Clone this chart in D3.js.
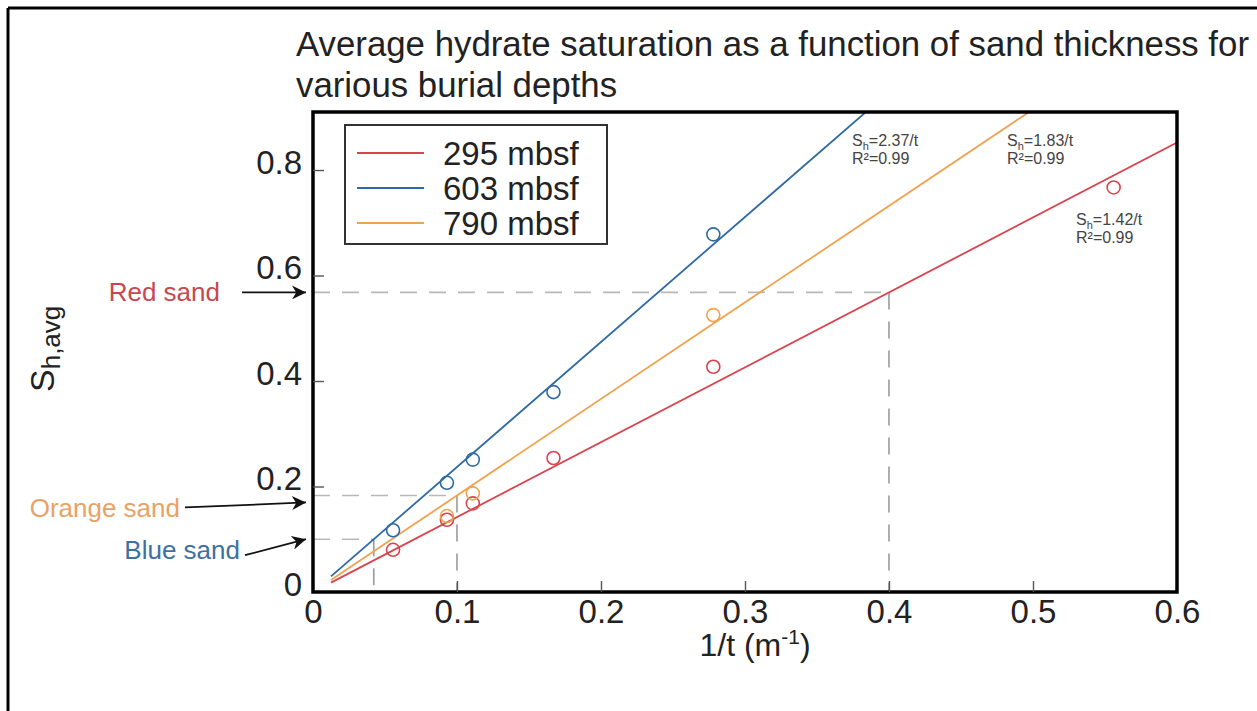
<!DOCTYPE html>
<html>
<head>
<meta charset="utf-8">
<script src="https://cdn.jsdelivr.net/npm/d3@7"></script>
<style>
  html, body { margin: 0; padding: 0; background: #fff; }
  svg { display: block; font-family: "Liberation Sans", Arial, sans-serif; }
</style>
</head>
<body>
<svg id="chart" width="1257" height="711"></svg>
<script>
// Inverse sand thickness 1/t (m^-1) for each measured sand
const invThickness = [0.0556, 0.093, 0.111, 0.167, 0.278, 0.556];

// Average hydrate saturation per burial depth
const sh295 = [0.080, 0.137, 0.168, 0.254, 0.427, 0.767];
const sh603 = [0.117, 0.207, 0.251, 0.379, 0.678, null];
const sh790 = [null, 0.144, 0.187, null, 0.525, null];

// Fitted slopes S_h = a / t
const seriesNames = ["295 mbsf", "603 mbsf", "790 mbsf"];
const seriesColors = ["#d9434d", "#2f6aa3", "#f0a24c"];
const fitSlopes = [1.42, 2.37, 1.83];
const fitLabels = ["S|h|=1.42/t", "S|h|=2.37/t", "S|h|=1.83/t"];
const fitR2 = ["R²=0.99", "R²=0.99", "R²=0.99"];
const fitStart = 0.0125;

// Example sands
const sandNames = ["Red sand", "Orange sand", "Blue sand"];
const sandColors = ["#c8474f", "#e9a265", "#3d70a3"];
const sandSeries = [0, 2, 1];
const sandInvT = [0.4, 0.1, 0.0422];

// Axes
const xTicks = [0, 0.1, 0.2, 0.3, 0.4, 0.5, 0.6];
const yTicks = [0, 0.2, 0.4, 0.6, 0.8];
const xDomain = [0, 0.6];
const yDomain = [0, 0.91];

const svg = d3.select("#chart");
const plot = { left: 313, right: 1177, top: 112, bottom: 592 };

const x = d3.scaleLinear().domain(xDomain).range([plot.left, plot.right]);
const y = d3.scaleLinear().domain(yDomain).range([plot.bottom, plot.top]);

// Outer slide border
svg.append("line").attr("x1", 8).attr("y1", 8).attr("x2", 1257).attr("y2", 8)
  .attr("stroke", "#000").attr("stroke-width", 3);
svg.append("line").attr("x1", 8).attr("y1", 8).attr("x2", 8).attr("y2", 711)
  .attr("stroke", "#000").attr("stroke-width", 3);

// Title
const title = svg.append("text").attr("x", 296).attr("font-size", 34.8).attr("fill", "#222");
title.append("tspan").attr("x", 296).attr("y", 56)
  .text("Average hydrate saturation as a function of sand thickness for");
title.append("tspan").attr("x", 296).attr("y", 97).text("various burial depths");

// Clip for plot area
const defs = svg.append("defs");
defs.append("clipPath").attr("id", "plotClip")
  .append("rect").attr("x", plot.left).attr("y", plot.top)
  .attr("width", plot.right - plot.left).attr("height", plot.bottom - plot.top);

const g = svg.append("g");

// Dashed guide lines for the example sands
const guides = g.append("g").attr("stroke", "#b8b8b8").attr("stroke-width", 1.6)
  .attr("stroke-dasharray", "17,12").attr("fill", "none");
sandInvT.forEach((t, i) => {
  const s = fitSlopes[sandSeries[i]] * t;
  guides.append("line").attr("x1", x(0)).attr("x2", x(t)).attr("y1", y(s)).attr("y2", y(s));
  guides.append("line").attr("x1", x(t)).attr("x2", x(t)).attr("y1", y(s)).attr("y2", y(0))
    .attr("stroke", "#9a9a9a");
});

// Fit lines
const lines = g.append("g").attr("clip-path", "url(#plotClip)");
fitSlopes.forEach((a, i) => {
  const xEnd = xDomain[1];
  lines.append("line")
    .attr("x1", x(fitStart)).attr("y1", y(a * fitStart))
    .attr("x2", x(xEnd)).attr("y2", y(a * xEnd))
    .attr("stroke", seriesColors[i]).attr("stroke-width", 1.8);
});

// Data points
const allSeries = [sh295, sh603, sh790];
const pts = g.append("g").attr("fill", "none").attr("stroke-width", 1.6);
allSeries.forEach((vals, i) => {
  vals.forEach((v, j) => {
    if (v == null) return;
    pts.append("circle").attr("cx", x(invThickness[j])).attr("cy", y(v)).attr("r", 6.5)
      .attr("stroke", seriesColors[i]);
  });
});

// Frame
g.append("rect").attr("x", plot.left).attr("y", plot.top)
  .attr("width", plot.right - plot.left).attr("height", plot.bottom - plot.top)
  .attr("fill", "none").attr("stroke", "#000").attr("stroke-width", 3.5);

// Axes with inward ticks
const xAxis = d3.axisBottom(x).tickValues(xTicks).tickSize(-11).tickPadding(8)
  .tickFormat(d => d === 0 ? "0" : d3.format(".1f")(d));
const gx = svg.append("g").attr("transform", `translate(0,${plot.bottom})`).call(xAxis);
gx.select(".domain").remove();
gx.selectAll(".tick line").attr("stroke", "#555").attr("stroke-width", 1.4)
  .filter(d => d === 0 || d === 0.6).remove();
gx.selectAll(".tick text").attr("font-size", 33).attr("fill", "#222")
  .attr("font-family", "Liberation Sans, Arial, sans-serif").attr("dy", "0.71em");

const yAxis = d3.axisLeft(y).tickValues(yTicks).tickSize(-11).tickPadding(11)
  .tickFormat(d => d === 0 ? "0" : d3.format(".1f")(d));
const gy = svg.append("g").attr("transform", `translate(${plot.left},0)`).call(yAxis);
gy.select(".domain").remove();
gy.selectAll(".tick line").attr("stroke", "#555").attr("stroke-width", 1.4)
  .filter(d => d === 0).remove();
gy.selectAll(".tick text").attr("font-size", 33).attr("fill", "#222")
  .attr("font-family", "Liberation Sans, Arial, sans-serif").attr("dy", "0.1em");

// Axis titles
const xt = svg.append("text").attr("x", 755).attr("y", 656)
  .attr("text-anchor", "middle").attr("font-size", 32).attr("fill", "#222");
xt.append("tspan").text("1/t (m");
xt.append("tspan").attr("font-size", 21).attr("dy", -12).text("-1");
xt.append("tspan").attr("dy", 12).text(")");

const yt = svg.append("text").attr("transform", "translate(54,392) rotate(-90)")
  .attr("font-size", 34).attr("fill", "#222");
yt.append("tspan").text("S");
yt.append("tspan").attr("font-size", 26).attr("dy", 6).text("h,avg");

// Fit equations
const eqPos = [[1076, 225], [852, 146], [1007, 146]];
fitLabels.forEach((lab, i) => {
  const parts = lab.split("|");
  const t = svg.append("text").attr("x", eqPos[i][0]).attr("y", eqPos[i][1])
    .attr("font-size", 16).attr("fill", "#444");
  t.append("tspan").text(parts[0]);
  t.append("tspan").attr("font-size", 11).attr("dy", 4).text(parts[1]);
  t.append("tspan").attr("dy", -4).text(parts[2]);
  svg.append("text").attr("x", eqPos[i][0]).attr("y", eqPos[i][1] + 18)
    .attr("font-size", 16).attr("fill", "#444").text(fitR2[i]);
});

// Legend
const legend = svg.append("g");
legend.append("rect").attr("x", 345).attr("y", 125).attr("width", 262).attr("height", 119)
  .attr("fill", "#fff").attr("stroke", "#333").attr("stroke-width", 2);
seriesNames.forEach((name, i) => {
  const ly = 153 + i * 35;
  legend.append("line").attr("x1", 357).attr("x2", 424).attr("y1", ly).attr("y2", ly)
    .attr("stroke", seriesColors[i]).attr("stroke-width", 1.8);
  legend.append("text").attr("x", 443).attr("y", ly + 12).attr("font-size", 33)
    .attr("fill", "#222").text(name);
});

// Sand labels with arrows
defs.append("marker").attr("id", "arrow").attr("viewBox", "0 0 10 10")
  .attr("refX", 10).attr("refY", 5).attr("markerWidth", 16).attr("markerHeight", 14)
  .attr("markerUnits", "userSpaceOnUse").attr("orient", "auto")
  .append("path").attr("d", "M0,0 L10,5 L0,10 L3,5 Z").attr("fill", "#111");

// [text right edge, text dy, arrow start x, arrow start dy] relative to the arrow tip
const labelPos = [[220, 0, 242, 0], [180, 5, 185, 5], [240, 11, 245, 16]];
const arrowEndDy = [0, 7, 0];
sandNames.forEach((name, i) => {
  const s = fitSlopes[sandSeries[i]] * sandInvT[i];
  const yy = y(s) + arrowEndDy[i];
  const [tx, tdy, ax, ady] = labelPos[i];
  svg.append("text").attr("x", tx).attr("y", yy + tdy).attr("dy", "0.35em")
    .attr("text-anchor", "end").attr("font-size", 26).attr("fill", sandColors[i]).text(name);
  svg.append("line").attr("x1", ax).attr("y1", yy + ady).attr("x2", 306).attr("y2", yy)
    .attr("stroke", "#111").attr("stroke-width", 1.8).attr("marker-end", "url(#arrow)");
});
</script>
</body>
</html>
